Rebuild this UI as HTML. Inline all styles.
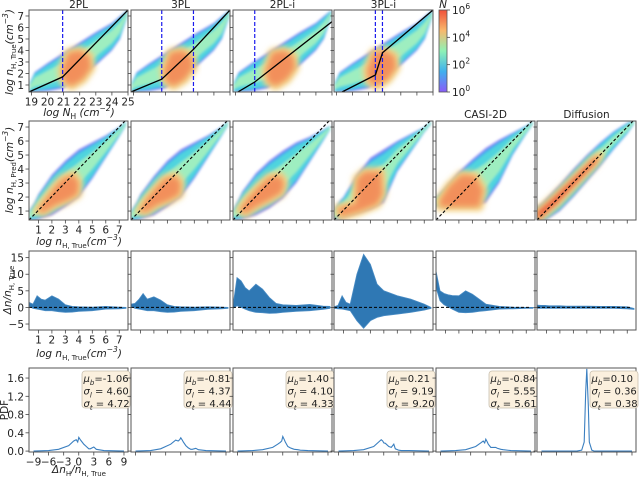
<!DOCTYPE html>
<html><head><meta charset="utf-8"><style>
html,body{margin:0;padding:0;background:#fff}
svg{display:block;font-family:"DejaVu Sans","Liberation Sans",sans-serif}
</style></head><body>
<svg id="fig" width="640" height="477" viewBox="0 0 640 477" xmlns="http://www.w3.org/2000/svg">
<defs>
<filter id="bl" x="-5%" y="-5%" width="110%" height="110%"><feGaussianBlur stdDeviation="1.2"/></filter>
<filter id="bl2" x="-30%" y="-30%" width="160%" height="160%"><feGaussianBlur stdDeviation="3"/></filter>
<linearGradient id="cmap" x1="0" y1="1" x2="0" y2="0">
<stop offset="0" stop-color="#8a5cf8"/><stop offset="0.25" stop-color="#3fb0ee"/><stop offset="0.5" stop-color="#8ef2b6"/><stop offset="0.75" stop-color="#f8b86c"/><stop offset="1" stop-color="#f0503a"/>
</linearGradient>
</defs>
</svg>
<script>
// ---------- data ----------
const nhX=[18.9,19.2,20,21,22,23,24,24.5,24.95];
const nhHi=[1.2,2.1,2.9,3.8,4.7,5.6,6.4,7.0,7.5];
const nhLo=[0.39,0.39,0.45,0.7,1.7,2.7,4.0,5.0,6.9];
const nhCoreX=[21.0,21.5,22.2,22.7,22.6,22.0,21.3,20.9];
const nhCoreY=[1.3,0.9,1.5,2.5,3.5,4.0,3.8,2.3];
const fit2X=[18.85,20.94,25.0], fit2Y=[0.39,1.7,7.52], vl2=[20.94];
const fit3X=[18.85,20.76,22.73,25.0], fit3Y=[0.39,1.5,4.1,7.52], vl3=[20.76,22.73];
const fit2iX=[19.15,20.2,25.0], fit2iY=[0.39,1.26,6.5], vl2i=[20.2];
const fit3iX=[19.35,21.42,21.86,25.0], fit3iY=[0.39,1.87,3.8,7.52], vl3i=[21.42,21.86];
const rowTitles=['2PL','3PL','2PL-i','3PL-i','CASI-2D','Diffusion'];

const pX=[0.3,0.7,1,2,3,4,5,6,7,7.5];
const p2PLHi=[1.0,1.6,2.2,3.6,4.6,5.4,5.9,6.4,7.0,7.4];
const p2PLLo=[0.36,0.36,0.4,0.7,1.3,2.0,3.3,4.8,6.3,7.1];
const p2PLCoreX=[0.9,1.5,2.3,2.8,3.6,4.0,3.9,3.2,2.2,1.4];
const p2PLCoreY=[1.0,1.8,2.8,3.3,3.6,3.0,2.2,1.8,1.4,0.9];
const p3PLHi=[1.0,1.6,2.2,3.5,4.6,5.4,5.9,6.4,7.0,7.4];
const p3PLLo=[0.36,0.36,0.4,0.7,1.3,2.0,3.3,4.8,6.3,7.1];
const p3PLCoreX=[0.9,1.5,2.3,2.8,3.6,4.0,3.9,3.2,2.2,1.4];
const p3PLCoreY=[1.0,1.9,2.8,3.3,3.5,3.0,2.2,1.8,1.4,0.9];
const p2PLiHi=[1.1,1.8,2.4,3.7,4.6,5.3,5.9,6.3,6.8,7.1];
const p2PLiLo=[0.36,0.36,0.4,0.7,1.2,1.9,3.0,4.5,6.0,6.8];
const p2PLiCoreX=[0.8,1.5,2.3,3.0,3.8,4.1,3.9,3.0,2.0,1.2];
const p2PLiCoreY=[1.1,2.0,2.8,3.4,3.5,3.0,2.3,1.8,1.3,0.8];
const p3PLiHi=[1.1,1.7,2.0,3.6,4.8,5.4,6.0,6.5,7.0,7.4];
const p3PLiLo=[0.36,0.4,0.5,0.8,1.1,1.6,3.8,5.2,6.6,7.2];
const p3PLiCoreX=[0.6,1.9,2.0,2.6,3.8,3.9,3.5,2.2,0.8];
const p3PLiCoreY=[1.2,1.5,3.3,3.8,3.8,2.2,1.5,1.0,0.6];
const pCasiHi=[2.0,2.4,2.7,3.8,4.7,5.5,6.1,6.6,7.1,7.4];
const pCasiLo=[1.3,1.3,1.3,1.3,1.3,1.6,3.0,5.0,6.5,7.2];
const pCasiCoreX=[0.6,3.5,3.8,3.2,2.2,1.3,0.6];
const pCasiCoreY=[1.3,1.3,2.5,3.5,3.6,2.8,1.8];
const pDifHi=[1.3,1.6,1.9,2.9,4.0,5.0,5.9,6.7,7.3,7.5];
const pDifLo=[0.36,0.36,0.36,1.0,2.0,3.1,4.2,5.4,6.5,7.2];
const pDifCoreX=[0.3,1.5,3,4.5,5.0,4.6,3.2,1.7,0.3];
const pDifCoreY=[0.9,1.9,3.3,4.7,5.0,4.4,3.0,1.5,0.36];

const rX=[0.3,0.6,0.9,1.2,1.5,2,2.5,3,3.5,4,5,6,7,7.5];
const r2PLUp=[1.5,1.0,3.5,2.5,2.2,3.5,2.5,0.8,0.3,0.2,0.1,0.3,0.1,0];
const r2PLLo=[0.3,-0.3,-0.5,-0.7,-1,-1,-1.3,-1.5,-1.4,-1.2,-1.0,-0.5,-0.4,-0.3];
const r3PLUp=[1.0,1.2,2.5,4.2,2.5,3.2,2.2,0.8,0.3,0.2,0.1,0.2,0.1,0];
const r3PLLo=[0.3,-0.3,-0.5,-0.7,-1,-1,-1.3,-1.5,-1.4,-1.2,-1.0,-0.6,-0.4,-0.3];
const r2PLiUp=[0.5,9,8,6,5,7,5.5,3,1.2,0.8,0.6,0.9,0.4,0.3];
const r2PLiLo=[-0.3,0.5,0,-0.5,-1,-1.5,-1.6,-1.8,-1.7,-1.5,-1.2,-1,-0.6,-0.3];
const r3PLiUp=[0.2,0.6,3.5,1.5,1.0,10,16,13,7,5,3.5,2.5,1,0];
const r3PLiLo=[-0.3,-0.4,-0.5,-0.7,-1,-4,-6.3,-4,-3,-2.5,-2,-1.5,-0.8,-0.3];
const rCasiUp=[11,5,4.2,3.8,3.6,3.5,5,4,2.5,1,0.3,0.1,0,0];
const rCasiLo=[6,2,0.8,0.2,-0.5,-1.5,-1.6,-1.5,-1.2,-1,-0.5,-0.4,-0.3,-0.3];
const rDifUp=[0.7,0.6,0.6,0.5,0.5,0.5,0.4,0.4,0.4,0.4,0.3,0.3,0.2,-0.3];
const rDifLo=[-0.3,-0.3,-0.3,-0.3,-0.3,-0.3,-0.3,-0.3,-0.3,-0.3,-0.3,-0.3,-0.4,-0.6];

const dX=[-9,-6,-4,-2,-1,-0.5,-0.2,0,0.3,0.5,1,1.5,2,2.3,3,3.5,5,9];
const d2PL=[0,0.01,0.04,0.12,0.22,0.25,0.2,0.3,0.25,0.22,0.15,0.1,0.05,0.05,0.09,0.04,0.01,0];
const d3PL=[0,0.01,0.05,0.15,0.24,0.22,0.25,0.29,0.24,0.2,0.12,0.07,0.04,0.04,0.06,0.03,0.01,0];
const d2PLi=[0,0.01,0.03,0.08,0.15,0.19,0.22,0.32,0.25,0.2,0.1,0.07,0.05,0.04,0.03,0.02,0.01,0];
const d3PLi=[0,0.01,0.03,0.1,0.2,0.25,0.22,0.18,0.17,0.15,0.1,0.08,0.15,0.05,0.02,0.01,0.01,0];
const dCasi=[0,0.01,0.03,0.1,0.18,0.22,0.18,0.26,0.2,0.15,0.08,0.08,0.08,0.06,0.04,0.03,0.01,0];
const dDif=[0,0,0,0,0.02,0.2,1.3,1.8,1.0,0.2,0.02,0,0,0,0,0,0,0];
const muB=['-1.06','-0.81','1.40','0.21','-0.84','0.10'];
const sigL=['4.60','4.37','4.10','9.19','5.55','0.36'];
const sigT=['4.72','4.44','4.33','9.20','5.61','0.38'];

const ticks1X=[19,20,21,22,23,24,25];
const ticks1Y=[1,2,3,4,5,6,7];
const ticks2=[1,2,3,4,5,6,7];
const ticks3Y=[-5,0,5,10,15];
const ticks4Y=[0.0,0.4,0.8,1.2,1.6];
const ticks4X=[-9,-6,-3,0,3,6,9];
const cbTicks=[0,2,4,6];

// ---------- layout ----------
const svg=document.getElementById('fig');
const NS='http://www.w3.org/2000/svg';
const FS=10;
const cols=[29,131,233,334,436,537], PW=99;
const R1={top:10,h:82,xd:[18.85,25.0],yd:[0.39,7.52]};
const R2={top:121,h:99,xd:[0.3,7.65],yd:[0.36,7.43]};
const R3={top:251,h:79,xd:[0.3,7.65],yd:[-6.8,17]};
const R4={top:368,h:84,xd:[-9.9,9.8],yd:[-0.02,1.82]};
function mk(tag,attrs,parent){const e=document.createElementNS(NS,tag);for(const k in attrs)e.setAttribute(k,attrs[k]);(parent||svg).appendChild(e);return e;}
function sx(R,c){return v=>cols[c]+(v-R.xd[0])/(R.xd[1]-R.xd[0])*PW;}
function sy(R){return v=>R.top+R.h-(v-R.yd[0])/(R.yd[1]-R.yd[0])*R.h;}
function pts(X,Y,fx,fy){return X.map((x,i)=>fx(x).toFixed(1)+','+fy(Y[i]).toFixed(1)).join(' ');}
let cid=0;
function clipFor(R,c){const id='cp'+(cid++);const cp=mk('clipPath',{id:id},svg.querySelector('defs'));mk('rect',{x:cols[c],y:R.top,width:PW,height:R.h},cp);return 'url(#'+id+')';}
function frame(R,c,name){const f=mk('rect',{x:cols[c],y:R.top,width:PW,height:R.h,fill:'none',stroke:'#555','stroke-width':1});

}
function txt(x,y,s,opt,name){const t=mk('text',Object.assign({x:x,y:y,'font-size':FS,fill:'#222','text-anchor':'middle'},opt||{}));t.innerHTML=s;

return t;}
function xticks(R,c,vals,labels,name){const fx=sx(R,c);const g=mk('g',{});


vals.forEach(v=>{mk('line',{x1:fx(v),x2:fx(v),y1:R.top+R.h,y2:R.top+R.h+3.5,stroke:'#444','stroke-width':0.8},g);
if(labels){const t=mk('text',{x:fx(v),y:R.top+R.h+13.5,'font-size':FS+0.5,'text-anchor':'middle',fill:'#222'},g);t.textContent=(v<0?'\u2212'+(-v):String(v));}});}
function yticks(R,c,vals,labels,fmt,name){const fy=sy(R);const g=mk('g',{});


vals.forEach(v=>{mk('line',{x1:cols[c]-3.5,x2:cols[c],y1:fy(v),y2:fy(v),stroke:'#444','stroke-width':0.8},g);
if(labels){const t=mk('text',{x:cols[c]-5,y:fy(v)+4,'font-size':FS+0.5,'text-anchor':'end',fill:'#222'},g);t.textContent=fmt?fmt(v):(v<0?'\u2212'+(-v):String(v));}});}

function heat(R,c,X,LO,HI,CX,CY,name,dense){
  const fx=sx(R,c),fy=sy(R);
  const g=mk('g',{'clip-path':clipFor(R,c)});
  
  
  const layers=[[1,'#8a78f2'],[0.93,'#45a8f0'],[0.82,'#4fd4de'],[0.45,'#9eeec0']];
  const inner=mk('g',{filter:'url(#bl)'},g);
  layers.forEach(([f,col])=>{
    const up=X.map((x,i)=>{const m=(LO[i]+HI[i])/2,h=(HI[i]-LO[i])/2;return m+h*f;});
    const lo=X.map((x,i)=>{const m=(LO[i]+HI[i])/2,h=(HI[i]-LO[i])/2;return m-h*f;});
    mk('polygon',{points:pts(X,up,fx,fy)+' '+pts(X.slice().reverse(),lo.slice().reverse(),fx,fy),fill:col},inner);
  });
  const core=mk('polygon',{points:pts(CX,CY,fx,fy),fill:'#f6c276',stroke:'#f3d486','stroke-width':9,'stroke-linejoin':'round',filter:'url(#bl2)'},g);
  const core2=mk('polygon',{points:pts(CX,CY,fx,fy),fill:dense?'#e8442e':'#f28a58',opacity:0.9,filter:'url(#bl2)'},g);
}

// ----- Row 1 -----
const fits=[[fit2X,fit2Y,vl2],[fit3X,fit3Y,vl3],[fit2iX,fit2iY,vl2i],[fit3iX,fit3iY,vl3i]];
for(let c=0;c<4;c++){
  heat(R1,c,nhX,nhLo,nhHi,nhCoreX,nhCoreY,'density-map-row1-'+rowTitles[c].toLowerCase());
  const fx=sx(R1,c),fy=sy(R1);const cp=clipFor(R1,c);
  fits[c][2].forEach(v=>{const l=mk('line',{x1:fx(v),x2:fx(v),y1:R1.top,y2:R1.top+R1.h,stroke:'#1a1aee','stroke-width':1.2,'stroke-dasharray':'4,2'});
  
  });
  const pl=mk('polyline',{points:pts(fits[c][0],fits[c][1],fx,fy),fill:'none',stroke:'#000','stroke-width':1.3,'clip-path':cp});
  
  
  frame(R1,c,'panel-row1-'+rowTitles[c].toLowerCase());
  xticks(R1,c,ticks1X,c===0,'x-ticks-row1');
  yticks(R1,c,ticks1Y,c===0,null,'y-ticks-row1');
  txt(cols[c]+PW/2,8,rowTitles[c],{'font-size':10.5},'title-'+rowTitles[c].toLowerCase());
}
// colorbar
const cb=mk('rect',{x:439,y:10,width:8,height:82,fill:'url(#cmap)',stroke:'#555','stroke-width':0.8});


cbTicks.forEach(v=>{const y=92-v/6*82;mk('line',{x1:447,x2:450,y1:y,y2:y,stroke:'#444','stroke-width':0.8});
 txt(452,y+4,'10<tspan font-size="7.5" dy="-5">'+v+'</tspan>',{'text-anchor':'start','font-size':10.5},'colorbar-tick-'+v);});
txt(443,8,'N',{'font-style':'italic','font-size':10.5},'colorbar-title');
txt(79,116,'<tspan font-style="italic">log N</tspan><tspan font-size="7.5" dy="3">H</tspan><tspan dy="-3" font-style="italic"> (cm</tspan><tspan font-size="7.5" dy="-5" font-style="italic">−2</tspan><tspan dy="5" font-style="italic">)</tspan>',{'font-size':10.5},'x-axis-title-row1');
txt(0,0,'<tspan font-style="italic">log n</tspan><tspan font-size="7" dy="3">H, True</tspan><tspan dy="-3" font-style="italic">(cm</tspan><tspan font-size="7.5" dy="-5" font-style="italic">−3</tspan><tspan dy="5" font-style="italic">)</tspan>',{'font-size':10.5,transform:'translate(13,52) rotate(-90)'},'y-axis-title-row1');

// ----- Row 2 -----
const r2=[[p2PLLo,p2PLHi,p2PLCoreX,p2PLCoreY],[p3PLLo,p3PLHi,p3PLCoreX,p3PLCoreY],[p2PLiLo,p2PLiHi,p2PLiCoreX,p2PLiCoreY],[p3PLiLo,p3PLiHi,p3PLiCoreX,p3PLiCoreY],[pCasiLo,pCasiHi,pCasiCoreX,pCasiCoreY],[pDifLo,pDifHi,pDifCoreX,pDifCoreY]];
for(let c=0;c<6;c++){
  heat(R2,c,pX,r2[c][0],r2[c][1],r2[c][2],r2[c][3],'density-map-row2-'+rowTitles[c].toLowerCase(),c===5);
  const fx=sx(R2,c),fy=sy(R2);
  const l=mk('line',{x1:fx(R2.xd[0]),y1:fy(R2.yd[0]),x2:fx(7.5),y2:fy(7.5),stroke:'#000','stroke-width':1.1,'stroke-dasharray':'3,2','clip-path':clipFor(R2,c)});
  
  
  frame(R2,c,'panel-row2-'+rowTitles[c].toLowerCase());
  xticks(R2,c,ticks2,c===0,'x-ticks-row2');
  yticks(R2,c,ticks2,c===0,null,'y-ticks-row2');
  if(c>=4) txt(cols[c]+PW/2,118,rowTitles[c],{'font-size':10.5},'title-'+rowTitles[c].toLowerCase());
}
txt(79,245,'<tspan font-style="italic">log n</tspan><tspan font-size="7" dy="3">H, True</tspan><tspan dy="-3" font-style="italic">(cm</tspan><tspan font-size="7.5" dy="-5" font-style="italic">−3</tspan><tspan dy="5" font-style="italic">)</tspan>',{'font-size':10.5},'x-axis-title-row2');
txt(0,0,'<tspan font-style="italic">log n</tspan><tspan font-size="7" dy="3">H, Pred</tspan><tspan dy="-3" font-style="italic">(cm</tspan><tspan font-size="7.5" dy="-5" font-style="italic">−3</tspan><tspan dy="5" font-style="italic">)</tspan>',{'font-size':10.5,transform:'translate(13,170) rotate(-90)'},'y-axis-title-row2');

// ----- Row 3 -----
const r3=[[r2PLUp,r2PLLo],[r3PLUp,r3PLLo],[r2PLiUp,r2PLiLo],[r3PLiUp,r3PLiLo],[rCasiUp,rCasiLo],[rDifUp,rDifLo]];
for(let c=0;c<6;c++){
  const fx=sx(R3,c),fy=sy(R3);
  const a=mk('polygon',{points:pts(rX,r3[c][0],fx,fy)+' '+pts(rX.slice().reverse(),r3[c][1].slice().reverse(),fx,fy),fill:'#2f78b4',stroke:'#4a8cc4','stroke-width':0.8,'clip-path':clipFor(R3,c)});
  
  
  const l=mk('line',{x1:fx(0.3),x2:fx(7.3),y1:fy(0),y2:fy(0),stroke:'#000','stroke-width':1,'stroke-dasharray':'3,2'});
  
  
  frame(R3,c,'panel-row3-'+rowTitles[c].toLowerCase());
  yticks(R3,c,ticks3Y,c===0,null,'y-ticks-row3');
  xticks(R3,c,ticks2,c===0,'x-ticks-row3');
}
txt(79,357,'<tspan font-style="italic">log n</tspan><tspan font-size="7" dy="3">H, True</tspan><tspan dy="-3" font-style="italic">(cm</tspan><tspan font-size="7.5" dy="-5" font-style="italic">−3</tspan><tspan dy="5" font-style="italic">)</tspan>',{'font-size':10.5},'x-axis-title-row3');
txt(0,0,'<tspan font-style="italic">Δn/n</tspan><tspan font-size="7" dy="3">H, True</tspan>',{'font-size':10.5,transform:'translate(11,290) rotate(-90)'},'y-axis-title-row3');

// ----- Row 4 -----
const r4=[d2PL,d3PL,d2PLi,d3PLi,dCasi,dDif];
for(let c=0;c<6;c++){
  const fx=sx(R4,c),fy=sy(R4);
  const pl=mk('polyline',{points:pts(dX,r4[c],fx,fy),fill:'none',stroke:'#3a7fc0','stroke-width':1.1,'clip-path':clipFor(R4,c)});
  
  
  frame(R4,c,'panel-row4-'+rowTitles[c].toLowerCase());
  xticks(R4,c,ticks4X,c===0,'x-ticks-row4');
  yticks(R4,c,ticks4Y,c===0,v=>v.toFixed(1),'y-ticks-row4');
  const bx=cols[c]+PW-46;
  const b=mk('rect',{x:bx,y:371,width:48,height:37,rx:3,fill:'#fbf0de',stroke:'#c9c0b0','stroke-width':0.8});
  
  
  txt(bx+1.5,382,'<tspan font-style="italic">μ</tspan><tspan font-size="7" dy="3" font-style="italic">b</tspan><tspan dy="-3">='+muB[c]+'</tspan>',{'text-anchor':'start','font-size':10},'mu-b-label');
  txt(bx+1.5,394.5,'<tspan font-style="italic">σ</tspan><tspan font-size="7" dy="3" font-style="italic">l</tspan><tspan dy="-3"> = '+sigL[c]+'</tspan>',{'text-anchor':'start','font-size':10},'sigma-l-label');
  txt(bx+1.5,407,'<tspan font-style="italic">σ</tspan><tspan font-size="7" dy="3" font-style="italic">t</tspan><tspan dy="-3"> = '+sigT[c]+'</tspan>',{'text-anchor':'start','font-size':10},'sigma-t-label');
}
txt(79,473,'<tspan font-style="italic">Δn</tspan><tspan font-size="7" dy="3">H</tspan><tspan dy="-3" font-style="italic">/n</tspan><tspan font-size="7" dy="3">H, True</tspan>',{'font-size':10.5},'x-axis-title-row4');
txt(0,0,'PDF',{'font-size':10.5,transform:'translate(8,410) rotate(-90)'},'y-axis-title-row4');
</script>
</body></html>
